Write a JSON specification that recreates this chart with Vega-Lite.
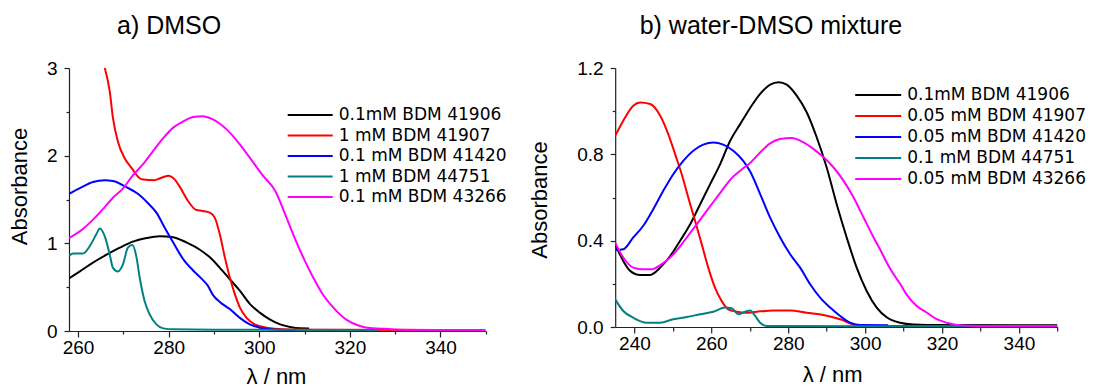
{
  "$schema": "https://vega.github.io/schema/vega-lite/v6.json",
  "autosize": {"type": "none"},
  "padding": {"left": 69, "top": 68, "right": 1024, "bottom": 319},
  "background": "white",
  "config": {
    "font": "Liberation Sans",
    "view": {"stroke": null},
    "axis": {"grid": false, "domainColor": "#222", "tickColor": "#222", "domainWidth": 1.2, "tickWidth": 1.2, "labelColor": "#000", "titleColor": "#000", "labelFont": "Liberation Sans", "titleFont": "Liberation Sans", "labelFontSize": 19, "titleFontSize": 22, "titleFontWeight": "normal", "labelFlush": false, "labelOverlap": false},
    "title": {"font": "Liberation Sans", "fontSize": 25, "fontWeight": "normal", "color": "#000", "anchor": "start", "frame": "group", "baseline": "alphabetic", "offset": 20},
    "legend": {"orient": "none", "title": null, "symbolType": "stroke", "symbolStrokeWidth": 2, "labelFont": "DejaVu Sans", "labelFontSize": 17, "labelColor": "#000", "labelOffset": 5, "padding": 0, "labelLimit": 400}
  },
  "datasets": {
    "dmso": [
      {"series": "0.1mM BDM 41906", "nm": 258, "abs": 0.60},
      {"series": "0.1mM BDM 41906", "nm": 260.4, "abs": 0.68},
      {"series": "0.1mM BDM 41906", "nm": 263.3, "abs": 0.78},
      {"series": "0.1mM BDM 41906", "nm": 266.3, "abs": 0.87},
      {"series": "0.1mM BDM 41906", "nm": 269.2, "abs": 0.95},
      {"series": "0.1mM BDM 41906", "nm": 272.1, "abs": 1.02},
      {"series": "0.1mM BDM 41906", "nm": 275.1, "abs": 1.06},
      {"series": "0.1mM BDM 41906", "nm": 278, "abs": 1.08},
      {"series": "0.1mM BDM 41906", "nm": 281, "abs": 1.07},
      {"series": "0.1mM BDM 41906", "nm": 283.9, "abs": 1.01},
      {"series": "0.1mM BDM 41906", "nm": 286.8, "abs": 0.93},
      {"series": "0.1mM BDM 41906", "nm": 289.1, "abs": 0.84},
      {"series": "0.1mM BDM 41906", "nm": 291.3, "abs": 0.72},
      {"series": "0.1mM BDM 41906", "nm": 293.5, "abs": 0.59},
      {"series": "0.1mM BDM 41906", "nm": 295.7, "abs": 0.46},
      {"series": "0.1mM BDM 41906", "nm": 297.9, "abs": 0.31},
      {"series": "0.1mM BDM 41906", "nm": 300.1, "abs": 0.21},
      {"series": "0.1mM BDM 41906", "nm": 302.4, "abs": 0.13},
      {"series": "0.1mM BDM 41906", "nm": 304.6, "abs": 0.076},
      {"series": "0.1mM BDM 41906", "nm": 306.8, "abs": 0.046},
      {"series": "0.1mM BDM 41906", "nm": 309, "abs": 0.03},
      {"series": "0.1mM BDM 41906", "nm": 311, "abs": 0.028},
      {"series": "1 mM BDM 41907", "nm": 265.9, "abs": 3.0},
      {"series": "1 mM BDM 41907", "nm": 267, "abs": 2.73},
      {"series": "1 mM BDM 41907", "nm": 267.7, "abs": 2.43},
      {"series": "1 mM BDM 41907", "nm": 268.8, "abs": 2.16},
      {"series": "1 mM BDM 41907", "nm": 270.3, "abs": 1.97},
      {"series": "1 mM BDM 41907", "nm": 271.8, "abs": 1.86},
      {"series": "1 mM BDM 41907", "nm": 274, "abs": 1.73},
      {"series": "1 mM BDM 41907", "nm": 276.9, "abs": 1.72},
      {"series": "1 mM BDM 41907", "nm": 278, "abs": 1.74},
      {"series": "1 mM BDM 41907", "nm": 279.9, "abs": 1.77},
      {"series": "1 mM BDM 41907", "nm": 281.3, "abs": 1.73},
      {"series": "1 mM BDM 41907", "nm": 282.4, "abs": 1.65},
      {"series": "1 mM BDM 41907", "nm": 284.3, "abs": 1.48},
      {"series": "1 mM BDM 41907", "nm": 286.1, "abs": 1.38},
      {"series": "1 mM BDM 41907", "nm": 287.5, "abs": 1.37},
      {"series": "1 mM BDM 41907", "nm": 289.1, "abs": 1.35},
      {"series": "1 mM BDM 41907", "nm": 290.2, "abs": 1.29},
      {"series": "1 mM BDM 41907", "nm": 291.3, "abs": 1.10},
      {"series": "1 mM BDM 41907", "nm": 292.4, "abs": 0.84},
      {"series": "1 mM BDM 41907", "nm": 293.5, "abs": 0.61},
      {"series": "1 mM BDM 41907", "nm": 294.6, "abs": 0.42},
      {"series": "1 mM BDM 41907", "nm": 295.7, "abs": 0.27},
      {"series": "1 mM BDM 41907", "nm": 297.2, "abs": 0.15},
      {"series": "1 mM BDM 41907", "nm": 299, "abs": 0.076},
      {"series": "1 mM BDM 41907", "nm": 301.6, "abs": 0.038},
      {"series": "1 mM BDM 41907", "nm": 305.3, "abs": 0.02},
      {"series": "1 mM BDM 41907", "nm": 315, "abs": 0.014},
      {"series": "1 mM BDM 41907", "nm": 337, "abs": 0.012},
      {"series": "0.1 mM BDM 41420", "nm": 258, "abs": 1.565},
      {"series": "0.1 mM BDM 41420", "nm": 260.4, "abs": 1.63},
      {"series": "0.1 mM BDM 41420", "nm": 263.3, "abs": 1.70},
      {"series": "0.1 mM BDM 41420", "nm": 265.9, "abs": 1.72},
      {"series": "0.1 mM BDM 41420", "nm": 267.7, "abs": 1.71},
      {"series": "0.1 mM BDM 41420", "nm": 270.7, "abs": 1.64},
      {"series": "0.1 mM BDM 41420", "nm": 273.2, "abs": 1.565},
      {"series": "0.1 mM BDM 41420", "nm": 275.4, "abs": 1.46},
      {"series": "0.1 mM BDM 41420", "nm": 277.3, "abs": 1.35},
      {"series": "0.1 mM BDM 41420", "nm": 279.1, "abs": 1.18},
      {"series": "0.1 mM BDM 41420", "nm": 281, "abs": 1.01},
      {"series": "0.1 mM BDM 41420", "nm": 283.2, "abs": 0.82},
      {"series": "0.1 mM BDM 41420", "nm": 285.4, "abs": 0.69},
      {"series": "0.1 mM BDM 41420", "nm": 287.2, "abs": 0.60},
      {"series": "0.1 mM BDM 41420", "nm": 288.6, "abs": 0.52},
      {"series": "0.1 mM BDM 41420", "nm": 289.8, "abs": 0.41},
      {"series": "0.1 mM BDM 41420", "nm": 291.3, "abs": 0.33},
      {"series": "0.1 mM BDM 41420", "nm": 293.5, "abs": 0.25},
      {"series": "0.1 mM BDM 41420", "nm": 295.7, "abs": 0.15},
      {"series": "0.1 mM BDM 41420", "nm": 297.9, "abs": 0.076},
      {"series": "0.1 mM BDM 41420", "nm": 300.1, "abs": 0.038},
      {"series": "0.1 mM BDM 41420", "nm": 302.4, "abs": 0.02},
      {"series": "0.1 mM BDM 41420", "nm": 306, "abs": 0.011},
      {"series": "0.1 mM BDM 41420", "nm": 308, "abs": 0.01},
      {"series": "1 mM BDM 44751", "nm": 258, "abs": 0.855},
      {"series": "1 mM BDM 44751", "nm": 258.9, "abs": 0.885},
      {"series": "1 mM BDM 44751", "nm": 261.1, "abs": 0.885},
      {"series": "1 mM BDM 44751", "nm": 262.6, "abs": 0.97},
      {"series": "1 mM BDM 44751", "nm": 264, "abs": 1.10},
      {"series": "1 mM BDM 44751", "nm": 264.8, "abs": 1.17},
      {"series": "1 mM BDM 44751", "nm": 265.9, "abs": 1.08},
      {"series": "1 mM BDM 44751", "nm": 267, "abs": 0.87},
      {"series": "1 mM BDM 44751", "nm": 267.7, "abs": 0.72},
      {"series": "1 mM BDM 44751", "nm": 268.8, "abs": 0.68},
      {"series": "1 mM BDM 44751", "nm": 269.9, "abs": 0.76},
      {"series": "1 mM BDM 44751", "nm": 271, "abs": 0.95},
      {"series": "1 mM BDM 44751", "nm": 272, "abs": 0.98},
      {"series": "1 mM BDM 44751", "nm": 272.9, "abs": 0.84},
      {"series": "1 mM BDM 44751", "nm": 273.6, "abs": 0.61},
      {"series": "1 mM BDM 44751", "nm": 274.7, "abs": 0.34},
      {"series": "1 mM BDM 44751", "nm": 275.8, "abs": 0.19},
      {"series": "1 mM BDM 44751", "nm": 277.3, "abs": 0.076},
      {"series": "1 mM BDM 44751", "nm": 278.8, "abs": 0.03},
      {"series": "1 mM BDM 44751", "nm": 281, "abs": 0.019},
      {"series": "1 mM BDM 44751", "nm": 290, "abs": 0.015},
      {"series": "1 mM BDM 44751", "nm": 326, "abs": 0.012},
      {"series": "0.1 mM BDM 43266", "nm": 258, "abs": 1.06},
      {"series": "0.1 mM BDM 43266", "nm": 261, "abs": 1.16},
      {"series": "0.1 mM BDM 43266", "nm": 263.3, "abs": 1.27},
      {"series": "0.1 mM BDM 43266", "nm": 265.5, "abs": 1.39},
      {"series": "0.1 mM BDM 43266", "nm": 267.7, "abs": 1.52},
      {"series": "0.1 mM BDM 43266", "nm": 270, "abs": 1.63},
      {"series": "0.1 mM BDM 43266", "nm": 272, "abs": 1.77},
      {"series": "0.1 mM BDM 43266", "nm": 274.3, "abs": 1.90},
      {"series": "0.1 mM BDM 43266", "nm": 276.5, "abs": 2.05},
      {"series": "0.1 mM BDM 43266", "nm": 278.8, "abs": 2.20},
      {"series": "0.1 mM BDM 43266", "nm": 281, "abs": 2.32},
      {"series": "0.1 mM BDM 43266", "nm": 283.2, "abs": 2.39},
      {"series": "0.1 mM BDM 43266", "nm": 285.4, "abs": 2.44},
      {"series": "0.1 mM BDM 43266", "nm": 287.5, "abs": 2.45},
      {"series": "0.1 mM BDM 43266", "nm": 289.5, "abs": 2.42},
      {"series": "0.1 mM BDM 43266", "nm": 292.8, "abs": 2.30},
      {"series": "0.1 mM BDM 43266", "nm": 295.7, "abs": 2.13},
      {"series": "0.1 mM BDM 43266", "nm": 298.7, "abs": 1.92},
      {"series": "0.1 mM BDM 43266", "nm": 301, "abs": 1.76},
      {"series": "0.1 mM BDM 43266", "nm": 303.5, "abs": 1.60},
      {"series": "0.1 mM BDM 43266", "nm": 305.5, "abs": 1.36},
      {"series": "0.1 mM BDM 43266", "nm": 307.5, "abs": 1.10},
      {"series": "0.1 mM BDM 43266", "nm": 309.7, "abs": 0.84},
      {"series": "0.1 mM BDM 43266", "nm": 311.9, "abs": 0.61},
      {"series": "0.1 mM BDM 43266", "nm": 314, "abs": 0.42},
      {"series": "0.1 mM BDM 43266", "nm": 316.3, "abs": 0.27},
      {"series": "0.1 mM BDM 43266", "nm": 319.2, "abs": 0.13},
      {"series": "0.1 mM BDM 43266", "nm": 322.2, "abs": 0.057},
      {"series": "0.1 mM BDM 43266", "nm": 325, "abs": 0.03},
      {"series": "0.1 mM BDM 43266", "nm": 330, "abs": 0.018},
      {"series": "0.1 mM BDM 43266", "nm": 340, "abs": 0.012},
      {"series": "0.1 mM BDM 43266", "nm": 350, "abs": 0.01}
    ],
    "mix": [
      {"series": "0.1mM BDM 41906", "nm": 235, "abs": 0.384},
      {"series": "0.1mM BDM 41906", "nm": 237.1, "abs": 0.306},
      {"series": "0.1mM BDM 41906", "nm": 238.9, "abs": 0.26},
      {"series": "0.1mM BDM 41906", "nm": 241.5, "abs": 0.241},
      {"series": "0.1mM BDM 41906", "nm": 244.1, "abs": 0.241},
      {"series": "0.1mM BDM 41906", "nm": 246.7, "abs": 0.275},
      {"series": "0.1mM BDM 41906", "nm": 249.3, "abs": 0.329},
      {"series": "0.1mM BDM 41906", "nm": 251.9, "abs": 0.40},
      {"series": "0.1mM BDM 41906", "nm": 254.5, "abs": 0.476},
      {"series": "0.1mM BDM 41906", "nm": 257.1, "abs": 0.569},
      {"series": "0.1mM BDM 41906", "nm": 259.7, "abs": 0.662},
      {"series": "0.1mM BDM 41906", "nm": 262.3, "abs": 0.755},
      {"series": "0.1mM BDM 41906", "nm": 264.9, "abs": 0.863},
      {"series": "0.1mM BDM 41906", "nm": 267.5, "abs": 0.94},
      {"series": "0.1mM BDM 41906", "nm": 270.1, "abs": 1.015},
      {"series": "0.1mM BDM 41906", "nm": 272.7, "abs": 1.08},
      {"series": "0.1mM BDM 41906", "nm": 275.3, "abs": 1.123},
      {"series": "0.1mM BDM 41906", "nm": 277.5, "abs": 1.134},
      {"series": "0.1mM BDM 41906", "nm": 279.6, "abs": 1.123},
      {"series": "0.1mM BDM 41906", "nm": 282.2, "abs": 1.072},
      {"series": "0.1mM BDM 41906", "nm": 284.8, "abs": 0.995},
      {"series": "0.1mM BDM 41906", "nm": 287.4, "abs": 0.879},
      {"series": "0.1mM BDM 41906", "nm": 290, "abs": 0.739},
      {"series": "0.1mM BDM 41906", "nm": 292.6, "abs": 0.569},
      {"series": "0.1mM BDM 41906", "nm": 295.2, "abs": 0.415},
      {"series": "0.1mM BDM 41906", "nm": 297.8, "abs": 0.275},
      {"series": "0.1mM BDM 41906", "nm": 300.4, "abs": 0.167},
      {"series": "0.1mM BDM 41906", "nm": 303, "abs": 0.09},
      {"series": "0.1mM BDM 41906", "nm": 305.6, "abs": 0.045},
      {"series": "0.1mM BDM 41906", "nm": 309.1, "abs": 0.02},
      {"series": "0.1mM BDM 41906", "nm": 312.6, "abs": 0.012},
      {"series": "0.1mM BDM 41906", "nm": 320, "abs": 0.009},
      {"series": "0.1mM BDM 41906", "nm": 350, "abs": 0.008},
      {"series": "0.05 mM BDM 41907", "nm": 235, "abs": 0.886},
      {"series": "0.05 mM BDM 41907", "nm": 237.1, "abs": 0.956},
      {"series": "0.05 mM BDM 41907", "nm": 239.7, "abs": 1.025},
      {"series": "0.05 mM BDM 41907", "nm": 241.5, "abs": 1.04},
      {"series": "0.05 mM BDM 41907", "nm": 244.1, "abs": 1.033},
      {"series": "0.05 mM BDM 41907", "nm": 246.7, "abs": 0.979},
      {"series": "0.05 mM BDM 41907", "nm": 248.8, "abs": 0.894},
      {"series": "0.05 mM BDM 41907", "nm": 250.6, "abs": 0.80},
      {"series": "0.05 mM BDM 41907", "nm": 252.3, "abs": 0.708},
      {"series": "0.05 mM BDM 41907", "nm": 254, "abs": 0.60},
      {"series": "0.05 mM BDM 41907", "nm": 255.8, "abs": 0.49},
      {"series": "0.05 mM BDM 41907", "nm": 257.5, "abs": 0.384},
      {"series": "0.05 mM BDM 41907", "nm": 259.2, "abs": 0.275},
      {"series": "0.05 mM BDM 41907", "nm": 261, "abs": 0.18},
      {"series": "0.05 mM BDM 41907", "nm": 262.7, "abs": 0.12},
      {"series": "0.05 mM BDM 41907", "nm": 264.4, "abs": 0.082},
      {"series": "0.05 mM BDM 41907", "nm": 266.6, "abs": 0.071},
      {"series": "0.05 mM BDM 41907", "nm": 269.2, "abs": 0.066},
      {"series": "0.05 mM BDM 41907", "nm": 271.8, "abs": 0.071},
      {"series": "0.05 mM BDM 41907", "nm": 276.2, "abs": 0.077},
      {"series": "0.05 mM BDM 41907", "nm": 280.5, "abs": 0.077},
      {"series": "0.05 mM BDM 41907", "nm": 284.8, "abs": 0.066},
      {"series": "0.05 mM BDM 41907", "nm": 289.2, "abs": 0.056},
      {"series": "0.05 mM BDM 41907", "nm": 293.5, "abs": 0.036},
      {"series": "0.05 mM BDM 41907", "nm": 297, "abs": 0.012},
      {"series": "0.05 mM BDM 41907", "nm": 300.4, "abs": 0.005},
      {"series": "0.05 mM BDM 41907", "nm": 350, "abs": 0.003},
      {"series": "0.05 mM BDM 41420", "nm": 235, "abs": 0.356},
      {"series": "0.05 mM BDM 41420", "nm": 237.1, "abs": 0.36},
      {"series": "0.05 mM BDM 41420", "nm": 239.7, "abs": 0.415},
      {"series": "0.05 mM BDM 41420", "nm": 242.3, "abs": 0.469},
      {"series": "0.05 mM BDM 41420", "nm": 244.9, "abs": 0.546},
      {"series": "0.05 mM BDM 41420", "nm": 247.5, "abs": 0.631},
      {"series": "0.05 mM BDM 41420", "nm": 250.1, "abs": 0.708},
      {"series": "0.05 mM BDM 41420", "nm": 252.7, "abs": 0.77},
      {"series": "0.05 mM BDM 41420", "nm": 255.3, "abs": 0.817},
      {"series": "0.05 mM BDM 41420", "nm": 257.9, "abs": 0.845},
      {"series": "0.05 mM BDM 41420", "nm": 260.5, "abs": 0.855},
      {"series": "0.05 mM BDM 41420", "nm": 263.1, "abs": 0.845},
      {"series": "0.05 mM BDM 41420", "nm": 265.7, "abs": 0.817},
      {"series": "0.05 mM BDM 41420", "nm": 268.3, "abs": 0.77},
      {"series": "0.05 mM BDM 41420", "nm": 270.1, "abs": 0.72},
      {"series": "0.05 mM BDM 41420", "nm": 272.7, "abs": 0.616},
      {"series": "0.05 mM BDM 41420", "nm": 275.3, "abs": 0.507},
      {"series": "0.05 mM BDM 41420", "nm": 277.9, "abs": 0.415},
      {"series": "0.05 mM BDM 41420", "nm": 280.5, "abs": 0.337},
      {"series": "0.05 mM BDM 41420", "nm": 283.1, "abs": 0.275},
      {"series": "0.05 mM BDM 41420", "nm": 285.7, "abs": 0.198},
      {"series": "0.05 mM BDM 41420", "nm": 288.3, "abs": 0.136},
      {"series": "0.05 mM BDM 41420", "nm": 290.9, "abs": 0.09},
      {"series": "0.05 mM BDM 41420", "nm": 293.5, "abs": 0.051},
      {"series": "0.05 mM BDM 41420", "nm": 296.1, "abs": 0.02},
      {"series": "0.05 mM BDM 41420", "nm": 298.7, "abs": 0.009},
      {"series": "0.05 mM BDM 41420", "nm": 306, "abs": 0.008},
      {"series": "0.1 mM BDM 44751", "nm": 235, "abs": 0.128},
      {"series": "0.1 mM BDM 44751", "nm": 237.1, "abs": 0.074},
      {"series": "0.1 mM BDM 44751", "nm": 239.7, "abs": 0.043},
      {"series": "0.1 mM BDM 44751", "nm": 243.2, "abs": 0.02},
      {"series": "0.1 mM BDM 44751", "nm": 246.7, "abs": 0.02},
      {"series": "0.1 mM BDM 44751", "nm": 250.1, "abs": 0.036},
      {"series": "0.1 mM BDM 44751", "nm": 253.6, "abs": 0.046},
      {"series": "0.1 mM BDM 44751", "nm": 257.1, "abs": 0.059},
      {"series": "0.1 mM BDM 44751", "nm": 260.5, "abs": 0.071},
      {"series": "0.1 mM BDM 44751", "nm": 263.6, "abs": 0.09},
      {"series": "0.1 mM BDM 44751", "nm": 265.3, "abs": 0.087},
      {"series": "0.1 mM BDM 44751", "nm": 267, "abs": 0.059},
      {"series": "0.1 mM BDM 44751", "nm": 268.8, "abs": 0.071},
      {"series": "0.1 mM BDM 44751", "nm": 270.1, "abs": 0.077},
      {"series": "0.1 mM BDM 44751", "nm": 271.4, "abs": 0.051},
      {"series": "0.1 mM BDM 44751", "nm": 272.7, "abs": 0.02},
      {"series": "0.1 mM BDM 44751", "nm": 274.4, "abs": 0.005},
      {"series": "0.1 mM BDM 44751", "nm": 350, "abs": 0.003},
      {"series": "0.05 mM BDM 43266", "nm": 235, "abs": 0.391},
      {"series": "0.05 mM BDM 43266", "nm": 237.1, "abs": 0.322},
      {"series": "0.05 mM BDM 43266", "nm": 239.7, "abs": 0.275},
      {"series": "0.05 mM BDM 43266", "nm": 241.9, "abs": 0.268},
      {"series": "0.05 mM BDM 43266", "nm": 244.5, "abs": 0.268},
      {"series": "0.05 mM BDM 43266", "nm": 247.1, "abs": 0.291},
      {"series": "0.05 mM BDM 43266", "nm": 249.7, "abs": 0.329},
      {"series": "0.05 mM BDM 43266", "nm": 252.3, "abs": 0.384},
      {"series": "0.05 mM BDM 43266", "nm": 254.9, "abs": 0.445},
      {"series": "0.05 mM BDM 43266", "nm": 257.5, "abs": 0.507},
      {"series": "0.05 mM BDM 43266", "nm": 260.1, "abs": 0.569},
      {"series": "0.05 mM BDM 43266", "nm": 262.7, "abs": 0.631},
      {"series": "0.05 mM BDM 43266", "nm": 265.3, "abs": 0.69},
      {"series": "0.05 mM BDM 43266", "nm": 267.9, "abs": 0.73},
      {"series": "0.05 mM BDM 43266", "nm": 270.1, "abs": 0.76},
      {"series": "0.05 mM BDM 43266", "nm": 272.7, "abs": 0.809},
      {"series": "0.05 mM BDM 43266", "nm": 275.3, "abs": 0.851},
      {"series": "0.05 mM BDM 43266", "nm": 277.9, "abs": 0.871},
      {"series": "0.05 mM BDM 43266", "nm": 280.9, "abs": 0.876},
      {"series": "0.05 mM BDM 43266", "nm": 284, "abs": 0.855},
      {"series": "0.05 mM BDM 43266", "nm": 286.6, "abs": 0.824},
      {"series": "0.05 mM BDM 43266", "nm": 289.2, "abs": 0.786},
      {"series": "0.05 mM BDM 43266", "nm": 291.8, "abs": 0.739},
      {"series": "0.05 mM BDM 43266", "nm": 294.4, "abs": 0.677},
      {"series": "0.05 mM BDM 43266", "nm": 297, "abs": 0.60},
      {"series": "0.05 mM BDM 43266", "nm": 299.6, "abs": 0.507},
      {"series": "0.05 mM BDM 43266", "nm": 302.2, "abs": 0.415},
      {"series": "0.05 mM BDM 43266", "nm": 304.3, "abs": 0.345},
      {"series": "0.05 mM BDM 43266", "nm": 305.6, "abs": 0.299},
      {"series": "0.05 mM BDM 43266", "nm": 307.4, "abs": 0.244},
      {"series": "0.05 mM BDM 43266", "nm": 309.1, "abs": 0.2},
      {"series": "0.05 mM BDM 43266", "nm": 310.8, "abs": 0.15},
      {"series": "0.05 mM BDM 43266", "nm": 313.4, "abs": 0.097},
      {"series": "0.05 mM BDM 43266", "nm": 316, "abs": 0.067},
      {"series": "0.05 mM BDM 43266", "nm": 318.6, "abs": 0.036},
      {"series": "0.05 mM BDM 43266", "nm": 321.2, "abs": 0.02},
      {"series": "0.05 mM BDM 43266", "nm": 324.7, "abs": 0.008},
      {"series": "0.05 mM BDM 43266", "nm": 329.9, "abs": 0.005},
      {"series": "0.05 mM BDM 43266", "nm": 350, "abs": 0.005}
    ]
  },
  "spacing": 129.2,
  "bounds": "flush",
  "resolve": {"scale": {"color": "independent"}, "legend": {"color": "independent"}},
  "hconcat": [
    {
      "width": 416.8,
      "height": 263,
      "data": {"name": "dmso"},
      "title": {"text": "a) DMSO", "dx": 48},
      "mark": {"type": "line", "strokeWidth": 2, "clip": true, "interpolate": "monotone"},
      "encoding": {
        "x": {"field": "nm", "type": "quantitative", "scale": {"domain": [258, 350], "nice": false, "zero": false},
          "axis": {"title": "λ / nm", "values": [260, 270, 280, 290, 300, 310, 320, 330, 340, 350],
            "labelExpr": "datum.value % 20 == 0 ? datum.label : ''",
            "tickSize": {"condition": {"test": "datum.value % 20 == 0", "value": 6}, "value": 3},
            "labelPadding": 1, "titleX": 207, "titleY": 35}},
        "y": {"field": "abs", "type": "quantitative", "scale": {"domain": [0, 3], "nice": false},
          "axis": {"title": "Absorbance", "values": [0, 0.5, 1, 1.5, 2, 2.5, 3], "format": ".0f",
            "labelExpr": "round(datum.value * 2) % 2 == 0 ? datum.label : ''",
            "tickSize": {"condition": {"test": "round(datum.value * 2) % 2 == 0", "value": 5}, "value": 3},
            "labelPadding": 7, "titleX": -50, "titleY": 118, "titleBaseline": "middle"}},
        "color": {"field": "series", "type": "nominal",
          "scale": {"domain": ["0.1mM BDM 41906", "1 mM BDM 41907", "0.1 mM BDM 41420", "1 mM BDM 44751", "0.1 mM BDM 43266"],
            "range": ["#000000", "#ff0000", "#0000ff", "#008080", "#ff00ff"]},
          "legend": {"legendX": 217.7, "legendY": 38, "symbolSize": 2025, "clipHeight": 18, "rowPadding": 2.5}}
      }
    },
    {
      "width": 442.2,
      "height": 259,
      "data": {"name": "mix"},
      "title": {"text": "b) water-DMSO mixture", "dx": 24.5},
      "mark": {"type": "line", "strokeWidth": 2, "clip": true, "interpolate": "monotone"},
      "encoding": {
        "x": {"field": "nm", "type": "quantitative", "scale": {"domain": [235, 350], "nice": false, "zero": false},
          "axis": {"title": "λ / nm", "values": [240, 250, 260, 270, 280, 290, 300, 310, 320, 330, 340, 350],
            "labelExpr": "datum.value % 20 == 0 ? datum.label : ''",
            "tickSize": {"condition": {"test": "datum.value % 20 == 0", "value": 6}, "value": 4},
            "labelPadding": 1, "titleX": 217, "titleY": 37}},
        "y": {"field": "abs", "type": "quantitative", "scale": {"domain": [0, 1.2], "nice": false},
          "axis": {"title": "Absorbance", "values": [0, 0.2, 0.4, 0.6, 0.8, 1.0, 1.2], "format": ".1f",
            "labelExpr": "round(datum.value * 10) % 4 == 0 ? datum.label : ''",
            "tickSize": {"condition": {"test": "round(datum.value * 10) % 4 == 0", "value": 5}, "value": 3},
            "labelPadding": 7, "titleX": -75.5, "titleY": 131.5, "titleBaseline": "middle"}},
        "color": {"field": "series", "type": "nominal",
          "scale": {"domain": ["0.1mM BDM 41906", "0.05 mM BDM 41907", "0.05 mM BDM 41420", "0.1 mM BDM 44751", "0.05 mM BDM 43266"],
            "range": ["#000000", "#ff0000", "#0000ff", "#008080", "#ff00ff"]},
          "legend": {"legendX": 239, "legendY": 18.4, "symbolSize": 2116, "clipHeight": 17.3, "rowPadding": 2}}
      }
    }
  ]
}
